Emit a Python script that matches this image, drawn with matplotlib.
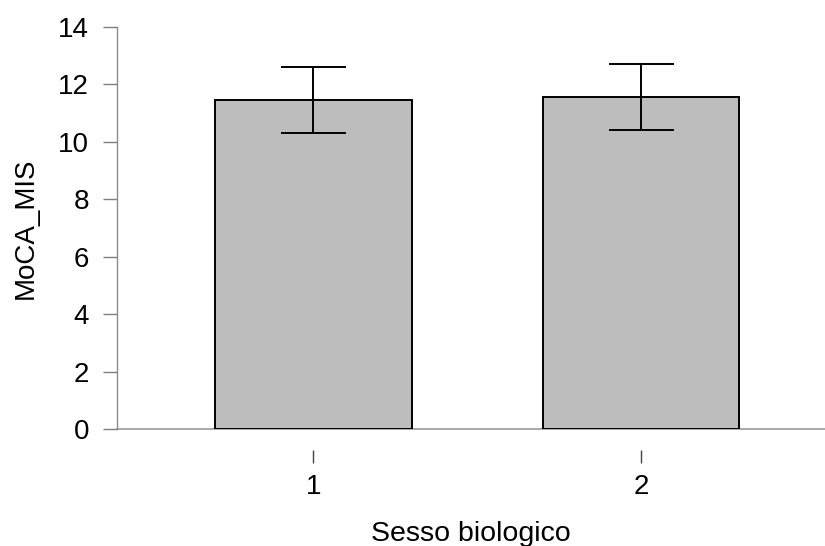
import matplotlib
matplotlib.use('Agg')
import matplotlib.pyplot as plt
import numpy as np

plt.rcParams['font.family'] = ['Liberation Sans', 'DejaVu Sans']

# data
groups = ['1', '2']
means = [11.47, 11.56]
ci_low = [10.30, 10.41]
ci_high = [12.62, 12.71]
y_ticks = [0, 2, 4, 6, 8, 10, 12, 14]

fig = plt.figure(figsize=(8.25, 5.46), dpi=100)
ax = fig.add_axes([117 / 825, (546 - 429) / 546, (825 - 117) / 825, 402 / 546])

x = np.arange(1, len(groups) + 1)
ax.bar(x, means, width=0.6, color='#bdbdbd', edgecolor='black', linewidth=1.4, zorder=2)
err = [np.array(means) - np.array(ci_low), np.array(ci_high) - np.array(means)]
ax.errorbar(x, means, yerr=err, fmt='none', ecolor='black', elinewidth=1.4,
            capsize=23.4, capthick=1.4, zorder=3)

ax.set_xlim(0.4, 2.562)
ax.set_ylim(0, 14)
ax.axhline(0, color='#9a9a9a', linewidth=1.2, zorder=1, clip_on=False)

ax.spines['top'].set_visible(False)
ax.spines['right'].set_visible(False)
ax.spines['left'].set_color('#8c8c8c')
ax.spines['left'].set_linewidth(1.0)
ax.spines['left'].set_bounds(0, 14)
ax.spines['bottom'].set_position(('outward', 15))
ax.spines['bottom'].set_visible(False)

ax.set_yticks(y_ticks)
ax.set_xticks(x)
ax.set_xticklabels(groups)
ax.tick_params(axis='y', length=10, width=1.0, color='#7f7f7f', labelsize=20, pad=10)
ax.tick_params(axis='x', length=9.4, width=1.0, color='#444444', labelsize=20, pad=8)

ax.set_ylabel('MoCA_MIS', fontsize=20, labelpad=14)
ax.set_xlabel('Sesso biologico', fontsize=20.5, labelpad=15)

fig.savefig('out.png', dpi=100)
